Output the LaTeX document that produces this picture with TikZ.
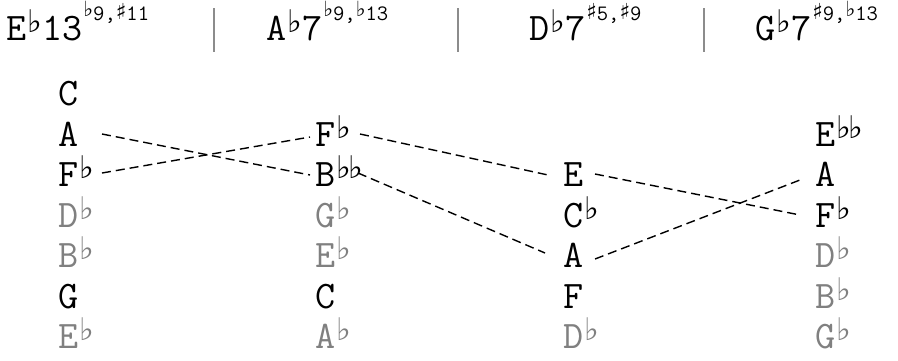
\documentclass[tikz,border=0pt]{standalone}
\usepackage{fontspec}
\usepackage{graphicx}
\newfontfamily\symf{DejaVu Sans}
\newcommand\tw{\ttfamily\addfontfeatures{FakeStretch=1.14,FakeBold=1.2}}
\newcommand\fl{\kern0.03em\raisebox{0.2em}{\scalebox{0.8}{\symf\bfseries ♭}}}
\newcommand\dfl{\fl\kern-0.1em\fl}
\newcommand\sfl{\raisebox{0.15em}{\scalebox{0.95}{\symf\bfseries ♭}}}
\newcommand\shp{\raisebox{0.02em}{\scalebox{1.0}{\symf\bfseries ♯}}}
\newcommand\hsup[1]{\raisebox{20pt}{\fontsize{22}{22}\selectfont\kern1pt#1}}
\colorlet{extgray}{black!50}
\colorlet{sepgray}{black!45}
\begin{document}
\begin{tikzpicture}[x=1pt,y=1pt,
  note/.style={anchor=base west,inner sep=0pt,font=\tw\fontsize{39}{39}\selectfont,text=black},
  extnote/.style={note,text=extgray},
  hdr/.style={anchor=base west,inner sep=0pt,font=\tw\fontsize{39}{39}\selectfont},
  sepline/.style={draw=sepgray,line width=1.5pt},
  vlead/.style={draw=black,line width=1.4pt,dash pattern=on 9pt off 5pt}]
\useasboundingbox (0,0) rectangle (898,-360);
% headers
\node[hdr] (h1) at (6,-40) {E\fl13\hsup{\sfl9,\shp11}};
\node[hdr] (h2) at (266,-40) {A\fl7\hsup{\sfl9,\sfl13}};
\node[hdr] (h3) at (529,-40) {D\fl7\hsup{\shp5,\shp9}};
\node[hdr] (h4) at (755,-40) {G\fl7\hsup{\shp9,\sfl13}};
\draw[sepline] (214,-8) -- (214,-52);
\draw[sepline] (458,-8) -- (458,-52);
\draw[sepline] (704,-8) -- (704,-52);
% column 1
\node[note]    (a1) at (58,-105) {C};
\node[note]    (a2) at (58,-146) {A};
\node[note]    (a3) at (58,-186) {F\fl};
\node[extnote] (a4) at (58,-227) {D\fl};
\node[extnote] (a5) at (58,-267) {B\fl};
\node[note]    (a6) at (58,-308) {G};
\node[extnote] (a7) at (58,-348) {E\fl};
% column 2
\node[note]    (b2) at (315,-146) {F\fl};
\node[note]    (b3) at (315,-186) {B\dfl};
\node[extnote] (b4) at (315,-227) {G\fl};
\node[extnote] (b5) at (315,-267) {E\fl};
\node[note]    (b6) at (315,-308) {C};
\node[extnote] (b7) at (315,-348) {A\fl};
% column 3
\node[note]    (c3) at (563,-186) {E};
\node[note]    (c4) at (563,-227) {C\fl};
\node[note]    (c5) at (563,-267) {A};
\node[note]    (c6) at (563,-308) {F};
\node[extnote] (c7) at (563,-348) {D\fl};
% column 4
\node[note]    (d2) at (815,-146) {E\dfl};
\node[note]    (d3) at (815,-186) {A};
\node[note]    (d4) at (815,-227) {F\fl};
\node[extnote] (d5) at (815,-267) {D\fl};
\node[extnote] (d6) at (815,-308) {B\fl};
\node[extnote] (d7) at (815,-348) {G\fl};
% voice-leading lines
\draw[vlead] ([shift={(44,12)}]a2.base west) -- ([shift={(-5,11)}]b3.base west);
\draw[vlead] ([shift={(44,13)}]a3.base west) -- ([shift={(-5,9)}]b2.base west);
\draw[vlead] ([shift={(45,12)}]b2.base west) -- ([shift={(-15,11)}]c3.base west);
\draw[vlead] ([shift={(43,13)}]b3.base west) -- ([shift={(-18,14)}]c5.base west);
\draw[vlead] ([shift={(32,12)}]c3.base west) -- ([shift={(-15,12)}]d4.base west);
\draw[vlead] ([shift={(32,8)}]c5.base west) -- ([shift={(-15,6)}]d3.base west);
\end{tikzpicture}
\end{document}
